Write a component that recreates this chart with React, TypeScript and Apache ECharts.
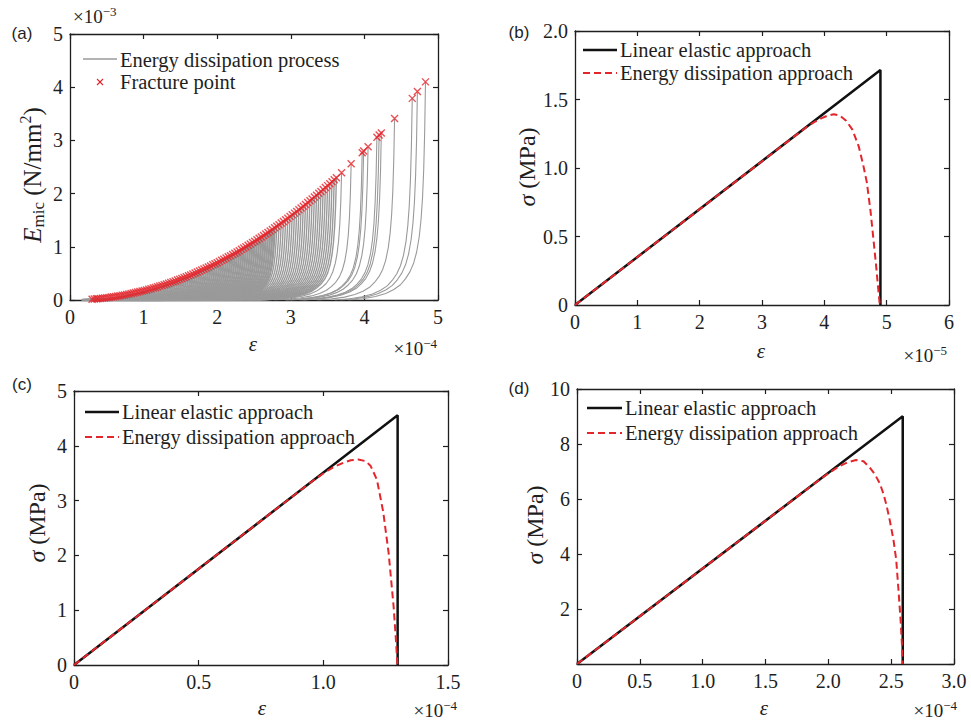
import React, { useEffect, useRef } from 'react';
import * as echarts from 'echarts';

const SERIF = '"Liberation Serif", "Times New Roman", Times, serif';
const SANS = '"Liberation Sans", Arial, Helvetica, sans-serif';
const INK = '#1e1e1e';
const RED = '#e3262c';
const GRAY = '#9a9a9a';

// ---------- Panel (a): energy dissipation curves (strain ×1e-4, energy ×1e-3) ----------
const fractureStrain = [
  0.30, 0.33, 0.36, 0.38, 0.41, 0.44, 0.47, 0.50, 0.53, 0.56, 0.59, 0.62, 0.65, 0.68, 0.71,
  0.74, 0.77, 0.80, 0.83, 0.86, 0.89, 0.92, 0.95, 0.98, 1.01, 1.04, 1.07, 1.10, 1.13, 1.16,
  1.19, 1.22, 1.25, 1.28, 1.31, 1.34, 1.37, 1.40, 1.43, 1.46, 1.49, 1.52, 1.55, 1.58, 1.61,
  1.64, 1.67, 1.70, 1.73, 1.76, 1.79, 1.82, 1.85, 1.88, 1.91, 1.94, 1.97, 2.00, 2.03, 2.06,
  2.09, 2.12, 2.15, 2.18, 2.21, 2.24, 2.27, 2.30, 2.33, 2.36, 2.39, 2.42, 2.45, 2.48, 2.51,
  2.54, 2.57, 2.60, 2.63, 2.66, 2.69, 2.72, 2.75, 2.78, 2.81, 2.84, 2.87, 2.90, 2.93, 2.96,
  2.99, 3.02, 3.05, 3.08, 3.11, 3.14, 3.17, 3.20, 3.23, 3.26, 3.29, 3.32, 3.35, 3.38, 3.41,
  3.44, 3.47, 3.50, 3.53, 3.56, 3.59, 3.62,
  3.69, 3.82, 3.97, 3.99, 4.05, 4.17, 4.20, 4.23, 4.41, 4.65, 4.72, 4.83,
];
const fractureEnergy = [
  0.016, 0.019, 0.023, 0.025, 0.030, 0.034, 0.039, 0.044, 0.049, 0.055, 0.061, 0.067, 0.074, 0.081, 0.088,
  0.096, 0.104, 0.112, 0.121, 0.130, 0.139, 0.149, 0.158, 0.169, 0.179, 0.190, 0.201, 0.212, 0.224, 0.236,
  0.249, 0.261, 0.274, 0.288, 0.301, 0.315, 0.329, 0.344, 0.359, 0.374, 0.390, 0.405, 0.422, 0.438, 0.455,
  0.472, 0.489, 0.507, 0.525, 0.544, 0.562, 0.581, 0.601, 0.620, 0.640, 0.661, 0.681, 0.702, 0.723, 0.745,
  0.767, 0.789, 0.811, 0.834, 0.857, 0.881, 0.904, 0.928, 0.953, 0.977, 1.002, 1.028, 1.053, 1.079, 1.106,
  1.132, 1.159, 1.186, 1.214, 1.242, 1.270, 1.298, 1.327, 1.356, 1.386, 1.416, 1.446, 1.476, 1.507, 1.538,
  1.569, 1.601, 1.633, 1.665, 1.697, 1.730, 1.764, 1.797, 1.831, 1.865, 1.900, 1.934, 1.970, 2.005, 2.041,
  2.077, 2.113, 2.150, 2.187, 2.224, 2.262, 2.300,
  2.39, 2.56, 2.77, 2.80, 2.88, 3.06, 3.10, 3.14, 3.41, 3.79, 3.92, 4.10,
];
// shape of one dissipation curve:
// strain distance before fracture (×1e-4) and energy / fracture energy
const profileStrainOffset = [1.05, 0.85, 0.68, 0.54, 0.43, 0.34, 0.27, 0.21, 0.16, 0.12, 0.085, 0.06, 0.04, 0.024, 0.011, 0];
const profileEnergyRatio = [0, 0.006, 0.016, 0.030, 0.048, 0.070, 0.098, 0.13, 0.17, 0.22, 0.29, 0.37, 0.47, 0.60, 0.77, 1.0];

const aXTickLabels = ['0', '1', '2', '3', '4', '5'];
const aYTickLabels = ['0', '1', '2', '3', '4', '5'];

// ---------- Panel (b) (strain ×1e-5) ----------
const bLinearStrain = [0, 4.9, 4.9];
const bLinearStress = [0, 1.715, 0];
const bDissStrain = [0, 3.60, 3.75, 3.85, 3.95, 4.05, 4.15, 4.25, 4.35, 4.45, 4.55, 4.62, 4.68, 4.74, 4.79, 4.83, 4.86, 4.89];
const bDissStress = [0, 1.259, 1.310, 1.338, 1.362, 1.382, 1.392, 1.382, 1.345, 1.28, 1.16, 1.03, 0.90, 0.69, 0.47, 0.29, 0.14, 0];
const bXTickLabels = ['0', '1', '2', '3', '4', '5', '6'];
const bYTickLabels = ['0', '0.5', '1.0', '1.5', '2.0'];

// ---------- Panel (c) (strain ×1e-4) ----------
const cLinearStrain = [0, 1.298, 1.298];
const cLinearStress = [0, 4.557, 0];
const cDissStrain = [0, 0.95, 1.00, 1.04, 1.08, 1.11, 1.14, 1.17, 1.19, 1.215, 1.24, 1.262, 1.282, 1.292, 1.297];
const cDissStress = [0, 3.335, 3.495, 3.61, 3.69, 3.735, 3.75, 3.72, 3.63, 3.38, 2.80, 2.04, 1.06, 0.40, 0];
const cXTickLabels = ['0', '0.5', '1.0', '1.5'];
const cYTickLabels = ['0', '1', '2', '3', '4', '5'];

// ---------- Panel (d) (strain ×1e-4) ----------
const dLinearStrain = [0, 2.592, 2.592];
const dLinearStress = [0, 9.006, 0];
const dDissStrain = [0, 1.90, 2.00, 2.08, 2.15, 2.22, 2.28, 2.33, 2.37, 2.41, 2.44, 2.465, 2.49, 2.518, 2.54, 2.558, 2.575, 2.586, 2.592];
const dDissStress = [0, 6.60, 6.93, 7.17, 7.33, 7.42, 7.37, 7.14, 6.90, 6.56, 6.17, 5.73, 5.20, 4.52, 3.80, 2.70, 1.60, 0.70, 0];
const dXTickLabels = ['0', '0.5', '1.0', '1.5', '2.0', '2.5', '3.0'];
const dYTickLabels = ['', '2', '4', '6', '8', '10'];

const zip = (xs: number[], ys: number[]) => xs.map((x, i) => [x, ys[i]]);

function axisPair(gridIndex: number, min: number, max: number, interval: number, labels: string[], dim: 'x' | 'y') {
  const base: any = {
    type: 'value',
    gridIndex,
    min,
    max,
    interval,
    axisLine: { show: true, onZero: false, lineStyle: { color: INK, width: 1.3 } },
    axisTick: { show: true, inside: true, length: 5, lineStyle: { color: INK, width: 1.2 } },
    splitLine: { show: false },
  };
  const fmt = (v: number) => {
    const k = Math.round((v - min) / interval);
    return labels[k] ?? '';
  };
  const main = {
    ...base,
    position: dim === 'x' ? 'bottom' : 'left',
    axisLabel: { show: true, formatter: fmt, fontFamily: SERIF, fontSize: 20, color: INK, margin: 7, showMinLabel: true, showMaxLabel: true },
  };
  const mirror = { ...base, position: dim === 'x' ? 'top' : 'right', axisLabel: { show: false } };
  return [main, mirror];
}

function mult(x: number, y: number, exp: string, align = 'right') {
  return {
    type: 'text',
    x,
    y,
    style: {
      text: `{n|×10}{s|${exp}}`,
      align,
      verticalAlign: 'middle',
      rich: {
        n: { fontFamily: SERIF, fontSize: 19, lineHeight: 22, fill: INK },
        s: { fontFamily: SERIF, fontSize: 13, lineHeight: 13, verticalAlign: 'top', fill: INK },
      },
    },
  };
}

function epsLabel(x: number, y: number) {
  return {
    type: 'text',
    x,
    y,
    style: { text: 'ε', fontFamily: SERIF, fontStyle: 'italic', fontSize: 21, fill: INK, align: 'center', verticalAlign: 'middle' },
  };
}

function sigmaTitle(x: number, y: number) {
  return {
    type: 'text',
    x,
    y,
    rotation: Math.PI / 2,
    style: {
      text: '{i|σ}{n| (MPa)}',
      align: 'center',
      verticalAlign: 'middle',
      rich: {
        i: { fontFamily: SERIF, fontStyle: 'italic', fontSize: 24, lineHeight: 28, fill: INK },
        n: { fontFamily: SERIF, fontSize: 24, lineHeight: 28, fill: INK },
      },
    },
  };
}

function panelTag(x: number, y: number, t: string) {
  return {
    type: 'text',
    x,
    y,
    style: { text: t, fontFamily: SANS, fontSize: 17, fill: INK, align: 'center', verticalAlign: 'middle' },
  };
}

function legendTwo(x0: number, x1: number, y0: number, y1: number) {
  return [
    { type: 'line', shape: { x1: x0, y1: y0, x2: x1, y2: y0 }, style: { stroke: '#111', lineWidth: 2.5 } },
    { type: 'line', shape: { x1: x0, y1: y1, x2: x1, y2: y1 }, style: { stroke: RED, lineWidth: 2, lineDash: [7, 4] } },
    { type: 'text', x: x1 + 3, y: y0, style: { text: 'Linear elastic approach', fontFamily: SERIF, fontSize: 20.5, fill: INK, align: 'left', verticalAlign: 'middle' } },
    { type: 'text', x: x1 + 3, y: y1, style: { text: 'Energy dissipation approach', fontFamily: SERIF, fontSize: 20.5, fill: INK, align: 'left', verticalAlign: 'middle' } },
  ];
}

function stressSeries(p: number, ls: number[], lv: number[], ds: number[], dv: number[]) {
  return [
    {
      type: 'line', xAxisIndex: 2 * p, yAxisIndex: 2 * p, data: zip(ls, lv), symbol: 'none', silent: true, z: 2,
      lineStyle: { color: '#111', width: 2.5 },
    },
    {
      type: 'line', xAxisIndex: 2 * p, yAxisIndex: 2 * p, data: zip(ds, dv), symbol: 'none', silent: true, z: 3,
      lineStyle: { color: RED, width: 2, type: [7, 4] },
    },
  ];
}

export default function App() {
  const ref = useRef<HTMLDivElement>(null);
  useEffect(() => {
    if (!ref.current) return;
    const chart = echarts.init(ref.current, null, { renderer: 'svg' });

    // each process curve: the read profile placed at its fracture point
    const processCurves = fractureStrain.map((ef, i) => {
      const s = Math.min(1, ef / 2.2);
      return profileStrainOffset.map((d, k) => [ef - d * s, fractureEnergy[i] * profileEnergyRatio[k]]);
    });

    const grids = [
      { left: 70, top: 34, width: 368, height: 266 },
      { left: 575, top: 31, width: 374, height: 274 },
      { left: 74, top: 391, width: 374, height: 274 },
      { left: 577, top: 389, width: 377, height: 275 },
    ];

    const xAxis = [
      ...axisPair(0, 0, 5, 1, aXTickLabels, 'x'),
      ...axisPair(1, 0, 6, 1, bXTickLabels, 'x'),
      ...axisPair(2, 0, 1.5, 0.5, cXTickLabels, 'x'),
      ...axisPair(3, 0, 3, 0.5, dXTickLabels, 'x'),
    ];
    const yAxis = [
      ...axisPair(0, 0, 5, 1, aYTickLabels, 'y'),
      ...axisPair(1, 0, 2, 0.5, bYTickLabels, 'y'),
      ...axisPair(2, 0, 5, 1, cYTickLabels, 'y'),
      ...axisPair(3, 0, 10, 2, dYTickLabels, 'y'),
    ];

    const aSeries: any[] = processCurves.map((c, i) => {
      const ef = fractureStrain[i];
      return {
        type: 'line',
        name: 'Energy dissipation process',
        xAxisIndex: 0,
        yAxisIndex: 0,
        data: c,
        symbol: 'none',
        silent: true,
        z: 2,
        lineStyle: { color: GRAY, width: ef > 3.65 ? 1.1 : ef > 2.8 ? 1.4 : 2.3 },
      };
    });
    aSeries.push({
      type: 'scatter',
      name: 'Fracture point',
      xAxisIndex: 0,
      yAxisIndex: 0,
      data: zip(fractureStrain, fractureEnergy),
      symbol: 'path://M0,0L10,10M10,0L0,10',
      symbolSize: 7,
      silent: true,
      z: 4,
      itemStyle: { color: 'rgba(0,0,0,0)', borderColor: RED, borderWidth: 1.4 },
    });

    const graphic: any[] = [
      panelTag(22, 33, '(a)'),
      panelTag(519, 32, '(b)'),
      panelTag(22, 384, '(c)'),
      panelTag(519, 388, '(d)'),
      // (a) titles
      mult(73, 16, '−3', 'left'),
      {
        type: 'text',
        x: 32,
        y: 175,
        rotation: Math.PI / 2,
        style: {
          text: '{i|E}{sub|mic}{n| (N/mm}{sup|2}{n|)}',
          align: 'center',
          verticalAlign: 'middle',
          rich: {
            i: { fontFamily: SERIF, fontStyle: 'italic', fontSize: 25, lineHeight: 30, fill: INK },
            sub: { fontFamily: SERIF, fontSize: 17, lineHeight: 17, verticalAlign: 'bottom', fill: INK },
            n: { fontFamily: SERIF, fontSize: 25, lineHeight: 30, fill: INK },
            sup: { fontFamily: SERIF, fontSize: 16, lineHeight: 16, verticalAlign: 'top', fill: INK },
          },
        },
      },
      epsLabel(253, 344),
      mult(437, 348, '−4'),
      // (a) legend
      { type: 'line', shape: { x1: 83, y1: 59, x2: 117, y2: 59 }, style: { stroke: GRAY, lineWidth: 1.3 } },
      { type: 'text', x: 120, y: 60, style: { text: 'Energy dissipation process', fontFamily: SERIF, fontSize: 20.5, fill: INK, align: 'left', verticalAlign: 'middle' } },
      { type: 'line', shape: { x1: 97, y1: 79, x2: 103, y2: 85 }, style: { stroke: RED, lineWidth: 1.1 } },
      { type: 'line', shape: { x1: 103, y1: 79, x2: 97, y2: 85 }, style: { stroke: RED, lineWidth: 1.1 } },
      { type: 'text', x: 120, y: 82, style: { text: 'Fracture point', fontFamily: SERIF, fontSize: 20.5, fill: INK, align: 'left', verticalAlign: 'middle' } },
      // (b)
      sigmaTitle(527, 167),
      epsLabel(761, 351),
      mult(947, 355, '−5'),
      ...legendTwo(583, 617, 50, 73),
      // (c)
      sigmaTitle(37, 523),
      epsLabel(262, 708),
      mult(457, 710, '−4'),
      ...legendTwo(85, 119, 412, 437),
      // (d)
      sigmaTitle(535, 525),
      epsLabel(764, 708),
      mult(957, 710, '−4'),
      ...legendTwo(587, 622, 408, 433),
    ];

    chart.setOption({
      animation: false,
      backgroundColor: '#ffffff',
      grid: grids,
      xAxis,
      yAxis,
      series: [
        ...aSeries,
        ...stressSeries(1, bLinearStrain, bLinearStress, bDissStrain, bDissStress),
        ...stressSeries(2, cLinearStrain, cLinearStress, cDissStrain, cDissStress),
        ...stressSeries(3, dLinearStrain, dLinearStress, dDissStrain, dDissStress),
      ],
      graphic,
    });
    return () => chart.dispose();
  }, []);
  return (
    <div
      ref={ref}
      style={{ position: 'fixed', left: 0, top: 0, width: '971px', height: '725px', background: '#fff' }}
    />
  );
}
